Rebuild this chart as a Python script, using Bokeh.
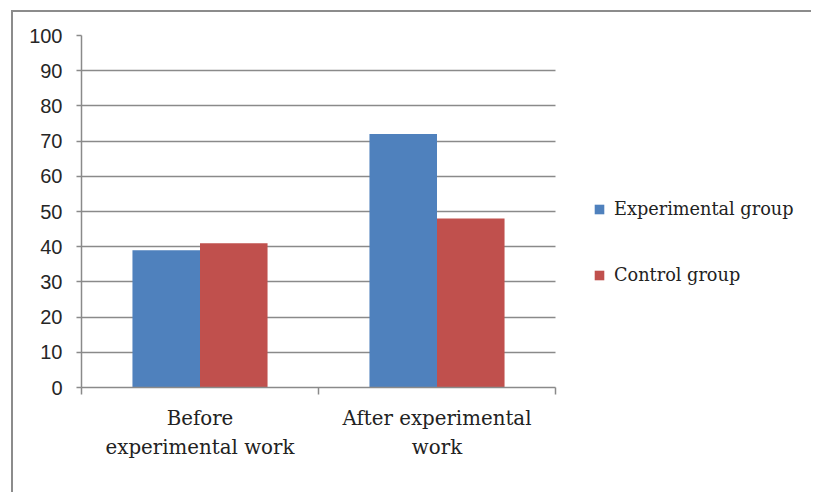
import numpy as np
from bokeh.plotting import figure
from bokeh.models import ColumnDataSource, Range1d, FixedTicker, Legend, LegendItem
from bokeh.transform import dodge
from bokeh.embed import file_html
from bokeh.resources import INLINE

categories = ["Before\nexperimental work", "After experimental\nwork"]
experimental = [39, 72]
control = [41, 48]
series_names = ["Experimental group", "Control group"]
y_ticks = [0, 10, 20, 30, 40, 50, 60, 70, 80, 90, 100]

blue = "#4F81BD"
red = "#C0504D"
grid = "#8a8a8a"
serif = "DejaVu Serif"
n = len(categories)

# layout: plot area 474 px wide; frame extended to the right to host the legend
W, H = 800, 482
LEFT, RIGHT, TOP, BOTTOM = 68, 10, 23, 107
frame_w = W - LEFT - RIGHT
x_end = n * frame_w / 474.0

xc = np.arange(n) + 0.5
src = ColumnDataSource(dict(x=xc, exp=experimental, ctl=control))

p = figure(width=W, height=H, output_backend="svg", toolbar_location=None,
           x_range=Range1d(0, x_end), y_range=Range1d(0, 100),
           min_border_left=LEFT, min_border_right=RIGHT, min_border_top=TOP, min_border_bottom=BOTTOM)
p.styles = {"margin-left": "11px", "margin-top": "10px",
            "border-left": "2px solid #8c8c8c", "border-top": "2px solid #8c8c8c"}
p.outline_line_color = None
p.background_fill_color = "white"

p.xgrid.visible = False
p.ygrid.ticker = FixedTicker(ticks=y_ticks)
p.ygrid.grid_line_color = grid
p.ygrid.grid_line_width = 1.5
try:
    p.ygrid.cross_bounds = (0, n)
except AttributeError:
    p.ygrid.visible = False
    gsrc = ColumnDataSource(dict(y=y_ticks, x0=[0] * len(y_ticks), x1=[n] * len(y_ticks)))
    p.segment(x0="x0", x1="x1", y0="y", y1="y", source=gsrc, line_color=grid, line_width=1.5)

bw = 0.285
r1 = p.vbar(x=dodge("x", -bw / 2, range=p.x_range), top="exp", width=bw, source=src,
            fill_color=blue, line_color=None)
r2 = p.vbar(x=dodge("x", bw / 2, range=p.x_range), top="ctl", width=bw, source=src,
            fill_color=red, line_color=None)

ya = p.yaxis[0]
ya.ticker = FixedTicker(ticks=y_ticks, minor_ticks=[])
ya.axis_line_color = grid
ya.axis_line_width = 1.5
ya.major_tick_line_color = grid
ya.major_tick_line_width = 1.5
ya.major_tick_out = 5
ya.major_tick_in = 0
ya.minor_tick_line_color = None
ya.major_label_standoff = 14
ya.major_label_text_font = "Liberation Sans"
ya.major_label_text_font_size = "20px"
ya.major_label_text_color = "#262626"

xa = p.xaxis[0]
xa.bounds = (0, n)
xa.ticker = FixedTicker(ticks=list(xc), minor_ticks=list(range(n + 1)))
xa.major_label_overrides = {float(v): c for v, c in zip(xc, categories)}
xa.axis_line_color = grid
xa.axis_line_width = 1.5
xa.major_tick_line_color = None
xa.major_tick_out = 0
xa.minor_tick_line_color = grid
xa.minor_tick_line_width = 1.5
xa.minor_tick_out = 7
xa.minor_tick_in = 0
xa.major_label_standoff = 12
xa.major_label_text_font = serif
xa.major_label_text_font_size = "19.8px"
xa.major_label_text_line_height = 1.3
xa.major_label_text_color = "#222222"

legend = Legend(items=[LegendItem(label=series_names[0], renderers=[r1]),
                       LegendItem(label=series_names[1], renderers=[r2])],
                location=(512, 100), padding=0, margin=0, spacing=42,
                glyph_width=12, glyph_height=12, label_height=24, label_standoff=9,
                border_line_color=None, background_fill_alpha=0,
                label_text_font=serif, label_text_font_size="17.7px", label_text_color="#222222")
p.add_layout(legend, "center")

open("out.html", "w").write(file_html(p, INLINE))
